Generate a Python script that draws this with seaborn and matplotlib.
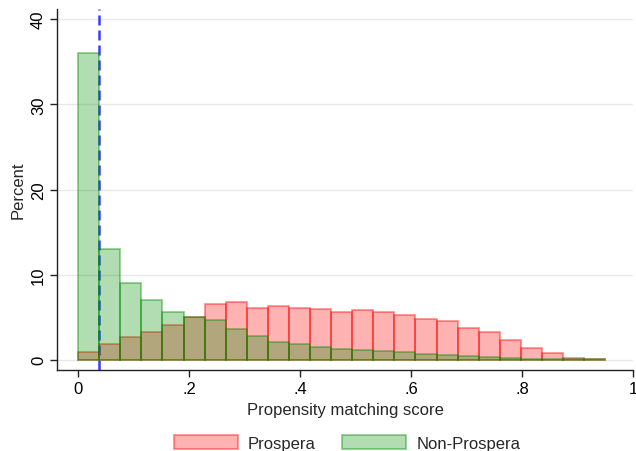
import numpy as np
import pandas as pd
import seaborn as sns
import matplotlib
matplotlib.use("Agg")
import matplotlib.pyplot as plt

# Histogram bins of the propensity score (25 bins from 0 to ~0.95)
bin_start = 0.0
bin_width = 0.0380
n_bins = 25

# Percent of each group falling in each bin
prospera_pct = [0.94, 1.90, 2.65, 3.28, 4.10, 5.00, 6.50, 6.77, 6.13, 6.37,
                6.06, 5.98, 5.59, 5.82, 5.67, 5.28, 4.81, 4.50, 3.79, 3.25,
                2.27, 1.41, 0.74, 0.20, 0.12]
non_prospera_pct = [36.0, 13.0, 9.07, 7.07, 5.60, 5.04, 4.65, 3.64, 2.78, 2.11,
                    1.80, 1.52, 1.29, 1.14, 1.06, 0.86, 0.70, 0.59, 0.43, 0.31,
                    0.20, 0.15, 0.10, 0.08, 0.10]

# Common-support cutoff
cutoff = 0.037

x_ticks = [0, 0.2, 0.4, 0.6, 0.8, 1.0]
x_ticklabels = ["0", ".2", ".4", ".6", ".8", "1"]
y_ticks = [0, 10, 20, 30, 40]

centers = bin_start + bin_width * (np.arange(n_bins) + 0.5)
bin_range = (bin_start, bin_start + bin_width * n_bins)

df = pd.DataFrame({
    "score": np.concatenate([centers, centers]),
    "pct": prospera_pct + non_prospera_pct,
    "group": ["Prospera"] * n_bins + ["Non-Prospera"] * n_bins,
})

sns.set_theme(style="white")
plt.rcParams["font.family"] = ["Liberation Sans", "DejaVu Sans"]

fig = plt.figure(figsize=(6.36, 4.52), dpi=100)
ax = fig.add_axes([57 / 636, 1 - 371 / 452, (633 - 57) / 636, (371 - 10) / 452])

ax.yaxis.grid(True, color="#e8e8e8", linewidth=1.0, zorder=0)
ax.set_axisbelow(True)

red = (1.0, 0.0, 0.0)
green = (0.0, 140 / 255, 0.0)

sns.histplot(data=df[df.group == "Prospera"], x="score", weights="pct",
             binwidth=bin_width, binrange=bin_range, stat="count",
             color=red, alpha=0.3, edgecolor=(*red, 0.42), linewidth=1.3,
             ax=ax, label="Prospera")
sns.histplot(data=df[df.group == "Non-Prospera"], x="score", weights="pct",
             binwidth=bin_width, binrange=bin_range, stat="count",
             color=green, alpha=0.3, edgecolor=(*green, 0.42), linewidth=1.3,
             ax=ax, label="Non-Prospera")

# cutoff line sits beneath the translucent bars
ax.axvline(cutoff, color="#3a3aff", linewidth=1.8, dashes=(4.0, 2.0), zorder=0.8)

ax.set_xlim(-0.038, 1.0)
ax.set_ylim(-1.2, 41.2)
ax.set_xticks(x_ticks)
ax.set_xticklabels(x_ticklabels)
ax.set_yticks(y_ticks)
ax.set_yticklabels([str(v) for v in y_ticks], rotation=90, va="center")

for side in ["top", "right"]:
    ax.spines[side].set_visible(False)
for side in ["left", "bottom"]:
    ax.spines[side].set_color("#222222")
    ax.spines[side].set_linewidth(1.0)

ax.tick_params(axis="both", which="major", direction="out", length=5,
               width=1.0, color="#222222", labelsize=12, labelcolor="black",
               bottom=True, left=True, pad=3)
ax.set_xlabel("Propensity matching score", fontsize=12, labelpad=4)
ax.set_ylabel("Percent", fontsize=12, labelpad=4)

handles = [c for c in ax.containers]
fig.legend(handles, ["Prospera", "Non-Prospera"], loc="center",
           bbox_to_anchor=(347 / 636, 1 - 444 / 452), ncol=2, frameon=False,
           fontsize=12, handlelength=3.85, handleheight=0.95,
           handletextpad=0.6, columnspacing=1.6, borderpad=0.0)

fig.savefig("out.png", dpi=100)
